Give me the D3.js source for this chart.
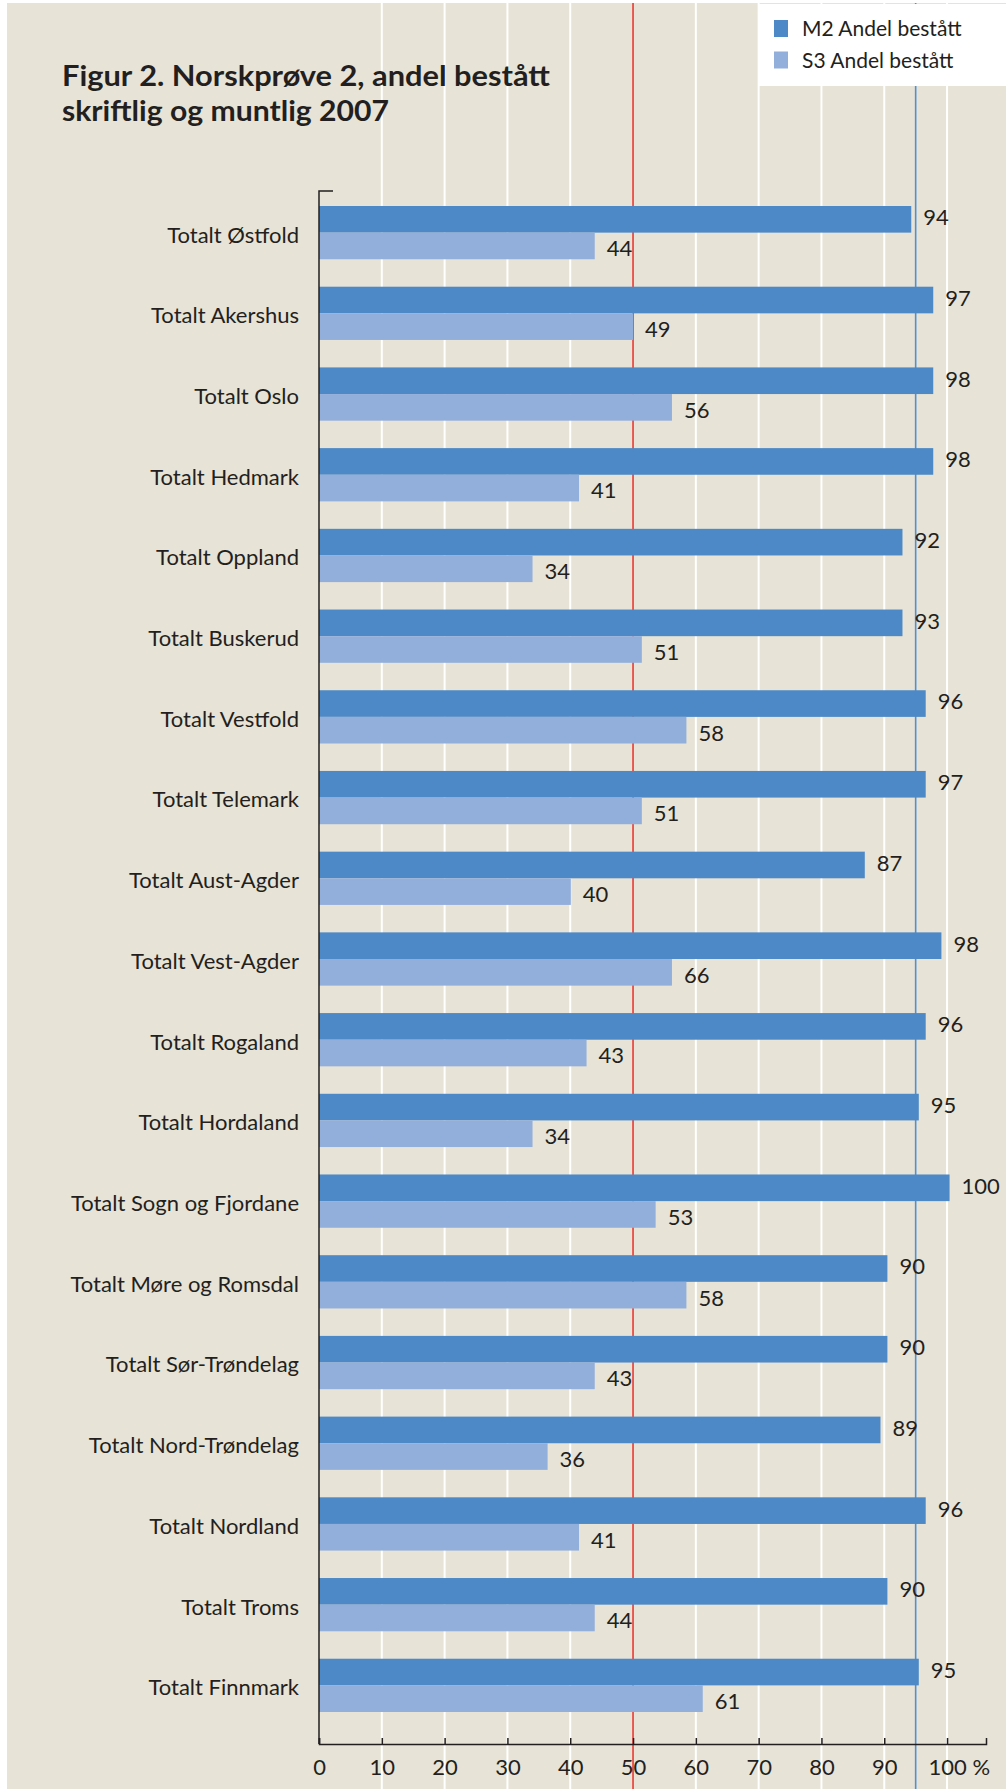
<!DOCTYPE html>
<html>
<head>
<meta charset="utf-8">
<script src="https://cdn.jsdelivr.net/npm/d3@7"></script>
<style>
    body { margin: 0; background: #fff; }
    svg { display: block; }
    text { font-family: Lato, "Open Sans", sans-serif; fill: #231f20; }
</style>
</head>
<body>
<script>
// chart data
const categories = ["Totalt Østfold", "Totalt Akershus", "Totalt Oslo", "Totalt Hedmark", "Totalt Oppland",
    "Totalt Buskerud", "Totalt Vestfold", "Totalt Telemark", "Totalt Aust-Agder", "Totalt Vest-Agder",
    "Totalt Rogaland", "Totalt Hordaland", "Totalt Sogn og Fjordane", "Totalt Møre og Romsdal",
    "Totalt Sør-Trøndelag", "Totalt Nord-Trøndelag", "Totalt Nordland", "Totalt Troms", "Totalt Finnmark"]

// bar lengths as drawn
const m2Values = [94.3, 97.8, 97.8, 97.8, 92.9, 92.9, 96.6, 96.6, 86.9, 99.1, 96.6, 95.5, 100.4, 90.5, 90.5, 89.4, 96.6, 90.5, 95.5]
const s3Values = [43.9, 50.0, 56.2, 41.4, 34.0, 51.4, 58.5, 51.4, 40.1, 56.2, 42.6, 34.0, 53.6, 58.5, 43.9, 36.4, 41.4, 43.9, 61.1]

// numbers printed next to the bars
const m2Labels = ["94", "97", "98", "98", "92", "93", "96", "97", "87", "98", "96", "95", "100", "90", "90", "89", "96", "90", "95"]
const s3Labels = ["44", "49", "56", "41", "34", "51", "58", "51", "40", "66", "43", "34", "53", "58", "43", "36", "41", "44", "61"]

const seriesNames = ["M2 Andel bestått", "S3 Andel bestått"]
const xTicks = [0, 10, 20, 30, 40, 50, 60, 70, 80, 90, 100]
const axisEnd = 106.2
const refValues = [50, 95]   // red line at 50, blue line at 95

var width = 1006, height = 1789
var colors = { m2: "#4d89c7", s3: "#92afdc", bg: "#e7e3d6", red: "#e5332a", blue: "#4f8fd3" }
var plotTop = 191, plotBottom = 1744

var svg = d3.select("body").append("svg")
    .attr("width", width)
    .attr("height", height)

// background with thin white border top / left
svg.append("rect").attr("x", 7).attr("y", 3)
    .attr("width", width - 7).attr("height", height - 3)
    .attr("fill", colors.bg)

var x = d3.scaleLinear().domain([0, axisEnd]).range([319, 986])

var y = d3.scaleBand().domain(categories)
    .range([206, 1712])
    .paddingInner(0.34)
    .paddingOuter(0)

var ySub = d3.scaleBand().domain(["m2", "s3"]).range([0, y.bandwidth()])

// white gridlines, full height
svg.append("g").selectAll("line")
    .data(xTicks.filter(d => d > 0))
    .enter().append("line")
    .attr("x1", d => x(d)).attr("x2", d => x(d))
    .attr("y1", 3).attr("y2", height)
    .attr("stroke", "#fff")
    .attr("stroke-width", 2)

// reference lines
svg.append("g").selectAll("line")
    .data(refValues)
    .enter().append("line")
    .attr("x1", d => x(d)).attr("x2", d => x(d))
    .attr("y1", 3).attr("y2", height)
    .attr("stroke", (d, i) => i === 0 ? colors.red : colors.blue)
    .attr("stroke-width", 1.6)

// title
var title = svg.append("g").attr("font-weight", "bold").attr("font-size", 29)
title.append("text").attr("x", 62).attr("y", 86)
    .attr("textLength", 488).attr("lengthAdjust", "spacingAndGlyphs")
    .text("Figur 2. Norskprøve 2, andel bestått")
title.append("text").attr("x", 62).attr("y", 121)
    .attr("textLength", 327).attr("lengthAdjust", "spacingAndGlyphs")
    .text("skriftlig og muntlig 2007")

// bars
var groups = svg.append("g").selectAll("g")
    .data(categories)
    .enter().append("g")
    .attr("transform", d => "translate(0," + y(d) + ")")

groups.append("rect")
    .attr("x", x(0))
    .attr("y", ySub("m2"))
    .attr("width", (d, i) => x(m2Values[i]) - x(0))
    .attr("height", ySub.bandwidth())
    .attr("fill", colors.m2)

groups.append("rect")
    .attr("x", x(0))
    .attr("y", ySub("s3"))
    .attr("width", (d, i) => x(s3Values[i]) - x(0))
    .attr("height", ySub.bandwidth())
    .attr("fill", colors.s3)

groups.append("text")
    .attr("x", (d, i) => x(m2Values[i]) + 12)
    .attr("y", ySub("m2") + ySub.bandwidth() / 2 - 2)
    .attr("dy", "0.36em")
    .attr("font-size", 22)
    .text((d, i) => m2Labels[i])

groups.append("text")
    .attr("x", (d, i) => x(s3Values[i]) + 12)
    .attr("y", ySub("s3") + ySub.bandwidth() / 2 + 2.5)
    .attr("dy", "0.36em")
    .attr("font-size", 22)
    .text((d, i) => s3Labels[i])

// category labels
groups.append("text")
    .attr("x", 299)
    .attr("y", y.bandwidth() / 2 + 2)
    .attr("dy", "0.36em")
    .attr("text-anchor", "end")
    .attr("font-size", 22)
    .text(d => d)

// vertical axis line with small tick at top
svg.append("path")
    .attr("d", "M" + (x(0) + 14) + "," + plotTop + "H" + x(0) + "V" + plotBottom)
    .attr("fill", "none")
    .attr("stroke", "#231f20")
    .attr("stroke-width", 1.5)

// x axis
var xAxis = d3.axisBottom(x)
    .tickValues(xTicks)
    .tickSizeInner(-6)
    .tickSizeOuter(-6)
    .tickPadding(15)
    .tickFormat(d => d === 100 ? "100 %" : d)

var gx = svg.append("g")
    .attr("transform", "translate(0," + plotBottom + ")")
    .call(xAxis)
gx.select(".domain").attr("stroke", "#231f20").attr("stroke-width", 1.5)
gx.selectAll(".tick line").attr("stroke", "#231f20").attr("stroke-width", 1.5)
gx.selectAll(".tick text")
    .attr("font-family", null)
    .attr("font-size", 22)
    .attr("fill", "#231f20")
gx.selectAll(".tick text").filter(d => d === 100)
    .attr("text-anchor", "start")
    .attr("x", -19)

// legend
var legend = svg.append("g")
legend.append("rect")
    .attr("x", 758).attr("y", 4)
    .attr("width", width - 758).attr("height", 82)
    .attr("fill", "#fff")

var legendItems = legend.selectAll(".item")
    .data(seriesNames)
    .enter().append("g")
    .attr("class", "item")
    .attr("transform", (d, i) => "translate(774," + (20 + i * 31.5) + ")")

legendItems.append("rect")
    .attr("width", 14).attr("height", 17)
    .attr("fill", (d, i) => i === 0 ? colors.m2 : colors.s3)

legendItems.append("text")
    .attr("x", 28).attr("y", 16)
    .attr("font-size", 21)
    .text(d => d)
</script>
</body>
</html>
